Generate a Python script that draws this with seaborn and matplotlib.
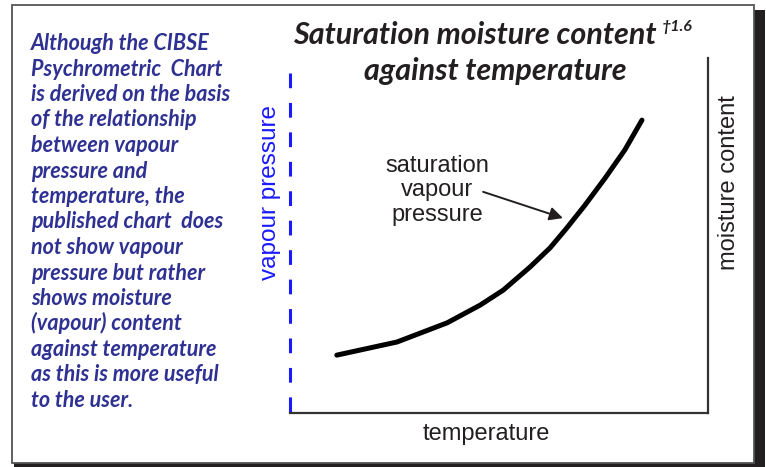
import matplotlib
matplotlib.use("Agg")
import matplotlib.pyplot as plt
from matplotlib.patches import Rectangle
import seaborn as sns

# saturation curve (axis units 0-100)
temperature = [11.2, 25.6, 37.6, 45.5, 51.0, 57.4, 62.2, 66.0, 70.6, 75.4, 80.1, 84.2]
moisture = [16.3, 20.0, 25.4, 30.4, 34.6, 41.1, 46.5, 51.8, 58.6, 66.2, 74.1, 82.5]

title_lines = ["Saturation moisture content", "against temperature"]
title_ref = "\u20201.6"
note_lines = ["Although the CIBSE", "Psychrometric  Chart", "is derived on the basis",
              "of the relationship", "between vapour", "pressure and",
              "temperature, the", "published chart  does", "not show vapour",
              "pressure but rather", "shows moisture", "(vapour) content",
              "against temperature", "as this is more useful", "to the user."]
curve_label = "saturation\nvapour\npressure"

W, H = 766, 467
sns.set_theme(style="white")
plt.rcParams["font.family"] = ["Liberation Sans", "DejaVu Sans"]
plt.rcParams["lines.scale_dashes"] = False

fig = plt.figure(figsize=(W / 100, H / 100), dpi=100)
fig.patch.set_facecolor("white")

# framed panel with drop shadow
fig.patches.append(Rectangle((14 / W, 0), 751 / W, 457 / H, transform=fig.transFigure,
                             facecolor="#231f20", edgecolor="none", zorder=-2))
fig.patches.append(Rectangle((12 / W, 4 / H), 742 / W, 458 / H, transform=fig.transFigure,
                             facecolor="white", edgecolor="#555555", lw=1.3, zorder=-1))

ax = fig.add_axes([290 / W, 54 / H, 418 / W, 355 / H])
ax.set_zorder(3)
ax.set_facecolor("none")
sns.lineplot(x=temperature, y=moisture, ax=ax, color="black", lw=3.6, sort=False)
ax.set_xlim(0, 100)
ax.set_ylim(0, 100)
ax.set_xticks([])
ax.set_yticks([])
ax.spines["top"].set_visible(False)
ax.spines["left"].set_visible(False)
for s in ["bottom", "right"]:
    ax.spines[s].set_color("#333333")
    ax.spines[s].set_linewidth(1.6)
# dashed vapour pressure axis, dashes counted from the top
ax.plot([0, 0], [95.8, 0], color="#1a1aff", lw=2.2, linestyle=(0, (10.6, 10.6)),
        clip_on=False, solid_capstyle="butt")

ax.set_xlabel("temperature", fontsize=17, color="#231f20")
ax.xaxis.set_label_coords(0.469, -0.027, transform=ax.transAxes)
ax.xaxis.label.set_va("top")
ax.yaxis.set_label_position("right")
ax.set_ylabel("moisture content", fontsize=17, color="#231f20")
ax.yaxis.set_label_coords(1.024, 0.65)

ax.text(35.2, 62.8, curve_label, fontsize=17, color="#231f20", ha="center", va="center",
        linespacing=1.15)
ax.annotate("", xy=(65.3, 54.9), xytext=(46.2, 62.3),
            arrowprops=dict(arrowstyle="-|>", color="#231f20", lw=1.4, mutation_scale=20,
                            shrinkA=0, shrinkB=0))

fig.text(270 / W, 1 - 192 / H, "vapour pressure", fontsize=17.5, color="#1a1aff",
         rotation=90, ha="center", va="center")

# titles
tfont = dict(family=["Lato", "DejaVu Sans"], weight="bold", style="italic", color="#231f20")
fig.text(475 / W, 1 - 44 / H, title_lines[0], fontsize=22, ha="center", va="baseline", **tfont)
fig.text(662 / W, 1 - 31 / H, title_ref, fontsize=11.5, ha="left", va="baseline", **tfont)
fig.text(495 / W, 1 - 80 / H, title_lines[1], fontsize=22, ha="center", va="baseline", **tfont)

# side note
for i, line in enumerate(note_lines):
    fig.text(31 / W, 1 - (50 + i * 25.5) / H, line, fontsize=15.5, color="#2e3192",
             family=["Lato", "DejaVu Sans"], weight="bold", style="italic",
             ha="left", va="baseline")

fig.savefig("out.png", dpi=100)
